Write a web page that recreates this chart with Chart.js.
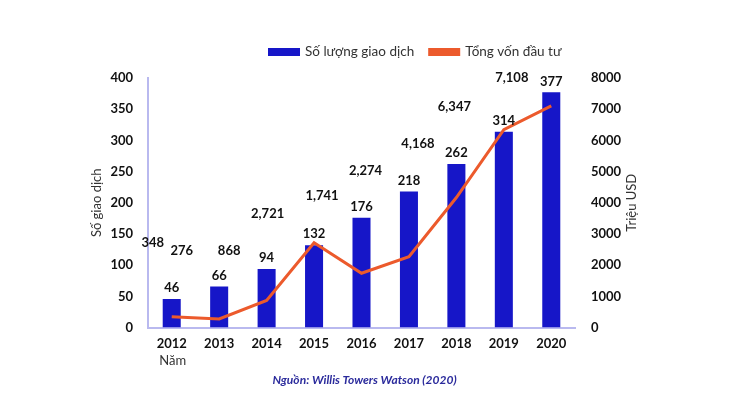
<!DOCTYPE html>
<html>
<head>
<meta charset="utf-8">
<script src="https://cdn.jsdelivr.net/npm/chart.js@4/dist/chart.umd.min.js"></script>
<style>
  html, body { margin: 0; padding: 0; background: #fff; }
  #wrap { width: 730px; height: 411px; }
</style>
</head>
<body>
<div id="wrap"><canvas id="chartcanvas"></canvas></div>
<script>
const years = ["2012", "2013", "2014", "2015", "2016", "2017", "2018", "2019", "2020"];
const deals = [46, 66, 94, 132, 176, 218, 262, 314, 377];
const capital = [348, 276, 868, 2721, 1741, 2274, 4168, 6347, 7108];

const leftTicks = [0, 50, 100, 150, 200, 250, 300, 350, 400];
const rightTicks = [0, 1000, 2000, 3000, 4000, 5000, 6000, 7000, 8000];

const FONT = "Lato, 'Noto Sans', sans-serif";
const axisColor = "#b9b9ef";

// where the capital labels sit in the original: [category, dx, height on right axis]
const capitalLabelSpots = [
  [0, -19, 2720], [0, 10, 2464], [1, 10, 2464], [2, 1, 3648], [3, 8, 4224],
  [4, 4, 5024], [5, 9, 5888], [6, -2, 7072], [7, 8, 8000],
];

const extras = {
  id: "extras",
  afterDatasetsDraw(chart) {
    const { ctx, scales } = chart;
    const x = scales.x, y = scales.y, y2 = scales.y2;
    ctx.save();
    ctx.fillStyle = "#111";
    ctx.font = "bold 13px " + FONT;
    ctx.textAlign = "center";
    ctx.textBaseline = "middle";
    // bar values
    deals.forEach((v, i) => {
      ctx.fillText(String(v), x.getPixelForValue(i), y.getPixelForValue(v) - 11);
    });
    // capital values
    capital.forEach((v, i) => {
      const s = capitalLabelSpots[i];
      ctx.fillText(v.toLocaleString("en-US"), x.getPixelForValue(s[0]) + s[1], y2.getPixelForValue(s[2]));
    });
    // "Năm" under first year
    ctx.font = "13px " + FONT;
    ctx.fillStyle = "#333";
    ctx.fillText("Năm", x.getPixelForValue(0) + 1, 361);

    // right axis title, reading upwards like the left one
    ctx.save();
    ctx.translate(632, (y2.top + y2.bottom) / 2);
    ctx.rotate(-Math.PI / 2);
    ctx.fillText("Triệu USD", 0, 0);
    ctx.restore();

    // legend
    ctx.font = "13.5px " + FONT;
    let lx = 268;
    const ly = 52;
    ctx.textAlign = "left";
    chart.data.datasets.forEach(d => {
      ctx.fillStyle = d.legendColor;
      ctx.fillRect(lx, ly - 4, 32, 8);
      ctx.fillStyle = "#333";
      ctx.fillText(d.label, lx + 37, ly);
      lx += 37 + ctx.measureText(d.label).width + 14;
    });
    ctx.restore();
  },
};

const config = {
  data: {
    labels: years,
    datasets: [
      {
        type: "bar",
        label: "Số lượng giao dịch",
        yAxisID: "y",
        data: deals,
        backgroundColor: "#1616c8",
        legendColor: "#1616c8",
        categoryPercentage: 1,
        barPercentage: 0.38,
        order: 1,
      },
      {
        type: "line",
        label: "Tổng vốn đầu tư",
        yAxisID: "y2",
        data: capital,
        borderColor: "#ec5a2c",
        legendColor: "#ec5a2c",
        borderWidth: 3,
        pointRadius: 0,
        tension: 0,
        order: 0,
      },
    ],
  },
  options: {
    responsive: true,
    maintainAspectRatio: false,
    animation: false,
    layout: { padding: { top: 78, left: 89, right: 90, bottom: 24 } },
    plugins: {
      legend: { display: false },
      tooltip: { enabled: false },
      subtitle: {
        display: true,
        position: "bottom",
        text: "Nguồn: Willis Towers Watson (2020)",
        color: "#2b2b9c",
        font: { family: FONT, size: 12, weight: "bold", style: "italic" },
        padding: { top: 15, bottom: 0 },
      },
    },
    scales: {
      x: {
        grid: { display: false },
        border: { display: true, color: axisColor, width: 2 },
        ticks: { color: "#111", font: { family: FONT, size: 13, weight: "bold" }, padding: 0 },
        afterFit(s) { s.height = 30; },
      },
      y: {
        position: "left",
        min: 0,
        max: 400,
        afterBuildTicks(s) { s.ticks = leftTicks.map(v => ({ value: v })); },
        grid: { display: false },
        border: { display: true, color: axisColor, width: 2 },
        ticks: { color: "#111", font: { family: FONT, size: 13, weight: "bold" }, padding: 7 },
        title: {
          display: true,
          text: "Số giao dịch",
          color: "#333",
          font: { family: FONT, size: 13 },
          padding: 0,
        },
        afterFit(s) { s.width = 59; },
      },
      y2: {
        position: "right",
        min: 0,
        max: 8000,
        afterBuildTicks(s) { s.ticks = rightTicks.map(v => ({ value: v })); },
        grid: { display: false },
        border: { display: false },
        ticks: {
          color: "#111",
          font: { family: FONT, size: 13, weight: "bold" },
          padding: 8,
          callback: v => String(v),
        },
        afterFit(s) { s.width = 65; },
      },
    },
  },
  plugins: [extras],
};

const chart = new Chart(document.getElementById("chartcanvas"), config);
</script>
</body>
</html>
